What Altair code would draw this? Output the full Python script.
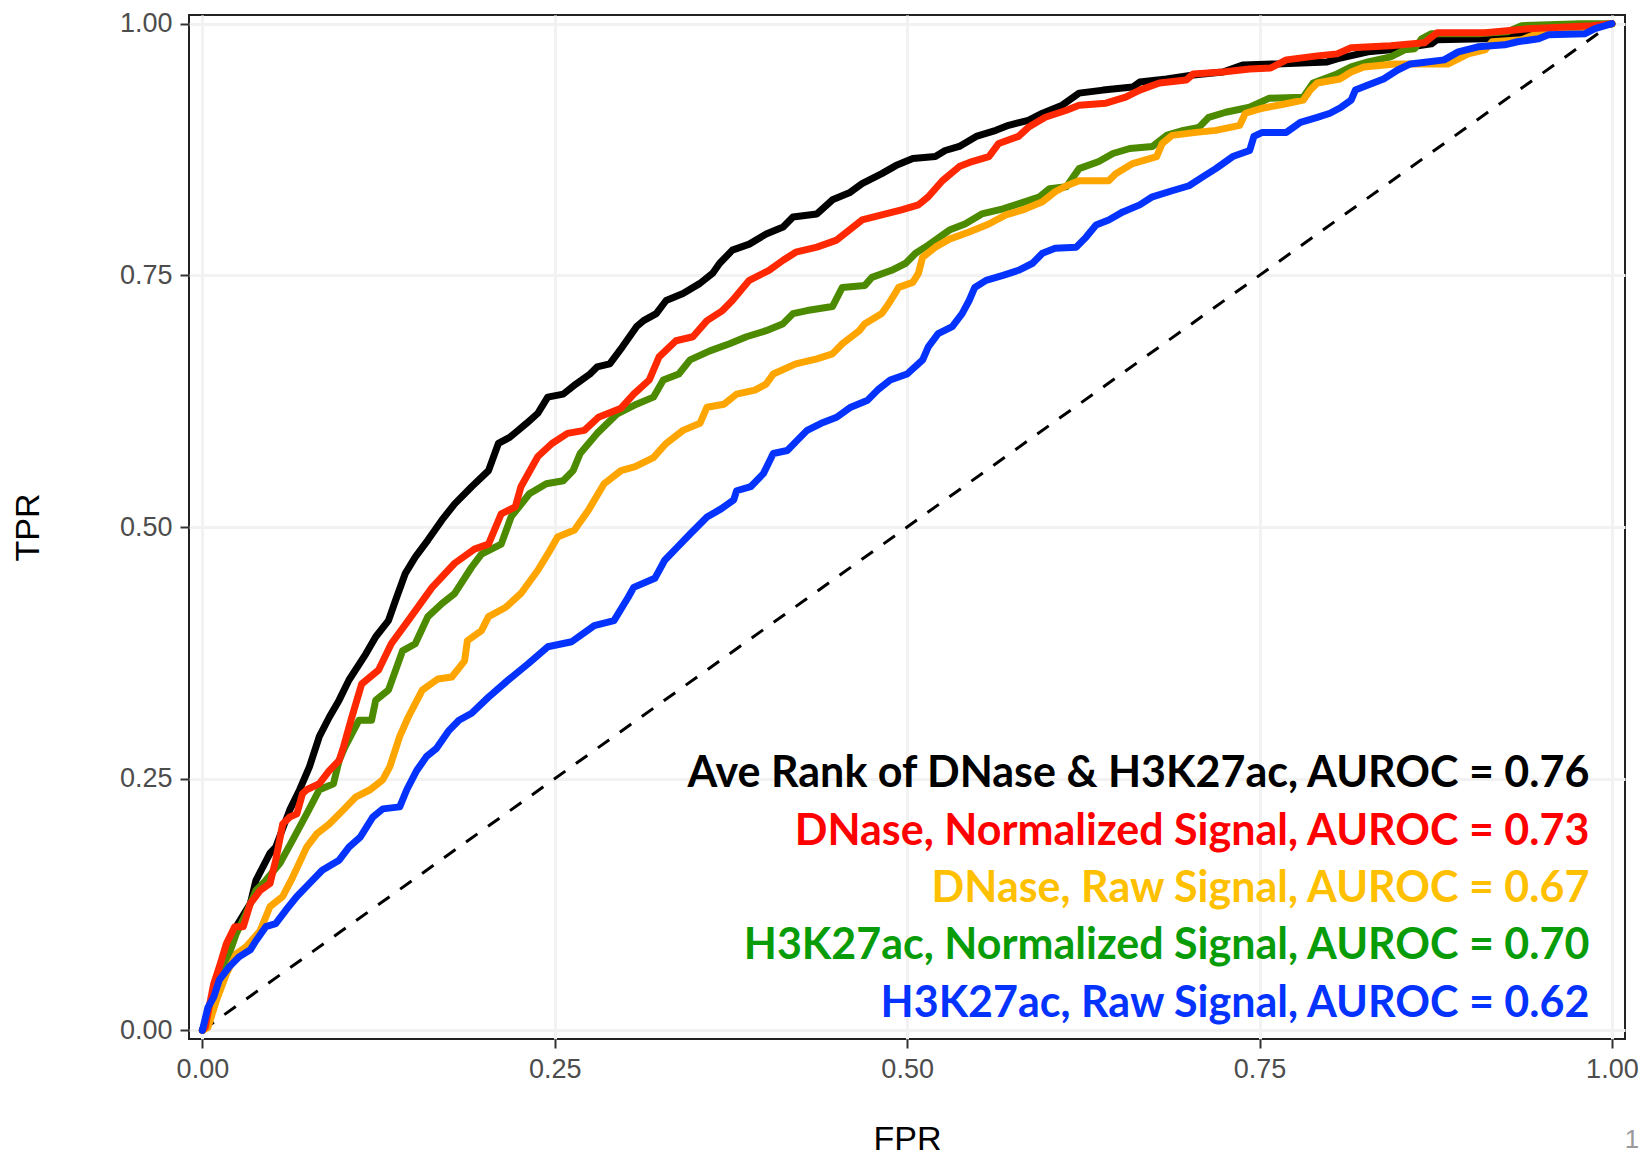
import altair as alt
import pandas as pd

# ---------------- data ----------------
SERIES = [
    "Ave Rank of DNase & H3K27ac",
    "H3K27ac, Normalized Signal",
    "DNase, Raw Signal",
    "DNase, Normalized Signal",
    "H3K27ac, Raw Signal",
]
LINE_COLORS = ["#000000", "#4C8A00", "#FFA500", "#FF2800", "#0433FF"]

BLACK_X = [0, 0.0076, 0.017, 0.024, 0.034, 0.038, 0.048, 0.052, 0.062, 0.069, 0.076, 0.083, 0.090, 0.097,
           0.104, 0.116, 0.123, 0.132, 0.137, 0.144, 0.151, 0.160, 0.170, 0.179, 0.191, 0.203, 0.210, 0.218,
           0.224, 0.230, 0.238, 0.245, 0.256, 0.265, 0.275, 0.280, 0.289, 0.298, 0.308, 0.313, 0.322, 0.329,
           0.341, 0.353, 0.362, 0.367, 0.376, 0.388, 0.400, 0.412, 0.419, 0.436, 0.447, 0.459, 0.468, 0.482,
           0.492, 0.504, 0.520, 0.527, 0.537, 0.549, 0.563, 0.572, 0.586, 0.596, 0.610, 0.622, 0.639, 0.660,
           0.665, 0.684, 0.703, 0.724, 0.738, 0.762, 0.798, 0.805, 0.827, 0.843, 0.872, 0.876, 0.910, 0.933,
           0.945, 0.988, 1.0]
BLACK_Y = [0, 0.030, 0.076, 0.103, 0.126, 0.149, 0.176, 0.182, 0.219, 0.239, 0.262, 0.292, 0.311, 0.328,
           0.348, 0.374, 0.391, 0.407, 0.427, 0.454, 0.470, 0.487, 0.507, 0.523, 0.540, 0.556, 0.583, 0.589,
           0.596, 0.603, 0.613, 0.629, 0.632, 0.642, 0.652, 0.659, 0.662, 0.679, 0.699, 0.705, 0.712, 0.725,
           0.732, 0.742, 0.752, 0.762, 0.775, 0.781, 0.791, 0.798, 0.808, 0.811, 0.825, 0.832, 0.841, 0.851,
           0.859, 0.866, 0.868, 0.874, 0.878, 0.888, 0.894, 0.899, 0.904, 0.911, 0.919, 0.931, 0.934, 0.937,
           0.942, 0.945, 0.949, 0.952, 0.959, 0.960, 0.962, 0.965, 0.972, 0.974, 0.980, 0.984, 0.985, 0.990,
           0.994, 0.998, 1.0]

RED_X = [0, 0.002, 0.008, 0.012, 0.017, 0.023, 0.029, 0.034, 0.041, 0.048, 0.052, 0.057, 0.062, 0.067,
         0.071, 0.074, 0.083, 0.090, 0.097, 0.100, 0.106, 0.113, 0.125, 0.134, 0.146, 0.163, 0.179, 0.193,
         0.203, 0.212, 0.222, 0.226, 0.238, 0.248, 0.259, 0.271, 0.281, 0.297, 0.306, 0.317, 0.324, 0.336,
         0.348, 0.358, 0.369, 0.376, 0.388, 0.402, 0.412, 0.421, 0.436, 0.450, 0.459, 0.468, 0.482, 0.496,
         0.508, 0.515, 0.525, 0.537, 0.546, 0.558, 0.565, 0.579, 0.586, 0.598, 0.613, 0.622, 0.641, 0.655,
         0.665, 0.679, 0.698, 0.703, 0.724, 0.743, 0.758, 0.769, 0.791, 0.805, 0.815, 0.843, 0.867, 0.876,
         0.910, 0.941, 0.986, 1.0]
RED_Y = [0, 0.003, 0.046, 0.063, 0.086, 0.103, 0.103, 0.126, 0.139, 0.146, 0.169, 0.205, 0.212, 0.215,
         0.235, 0.239, 0.245, 0.258, 0.268, 0.281, 0.311, 0.344, 0.358, 0.384, 0.407, 0.440, 0.464, 0.478,
         0.483, 0.513, 0.520, 0.540, 0.570, 0.583, 0.593, 0.596, 0.609, 0.618, 0.632, 0.646, 0.669, 0.685,
         0.689, 0.705, 0.715, 0.725, 0.745, 0.755, 0.765, 0.773, 0.778, 0.785, 0.795, 0.805, 0.810, 0.815,
         0.820, 0.828, 0.844, 0.858, 0.863, 0.868, 0.881, 0.888, 0.897, 0.907, 0.914, 0.919, 0.921, 0.927,
         0.934, 0.941, 0.944, 0.950, 0.952, 0.955, 0.956, 0.964, 0.968, 0.970, 0.976, 0.978, 0.981, 0.991,
         0.991, 0.995, 0.998, 1.0]

GREEN_X = [0, 0.003, 0.012, 0.019, 0.024, 0.031, 0.038, 0.045, 0.055, 0.064, 0.074, 0.083, 0.093, 0.097,
           0.101, 0.111, 0.120, 0.123, 0.132, 0.142, 0.151, 0.160, 0.170, 0.179, 0.191, 0.198, 0.212, 0.219,
           0.232, 0.244, 0.256, 0.263, 0.268, 0.280, 0.294, 0.308, 0.320, 0.327, 0.338, 0.346, 0.360, 0.374,
           0.386, 0.400, 0.412, 0.419, 0.429, 0.447, 0.454, 0.470, 0.475, 0.489, 0.499, 0.506, 0.515, 0.530,
           0.541, 0.553, 0.568, 0.579, 0.594, 0.601, 0.613, 0.622, 0.636, 0.646, 0.658, 0.674, 0.684, 0.696,
           0.707, 0.714, 0.726, 0.743, 0.757, 0.781, 0.788, 0.805, 0.815, 0.827, 0.843, 0.853, 0.860, 0.865,
           0.872, 0.905, 0.926, 0.936, 0.978, 1.0]
GREEN_Y = [0, 0.010, 0.046, 0.076, 0.096, 0.116, 0.139, 0.149, 0.166, 0.189, 0.215, 0.239, 0.245, 0.268,
           0.281, 0.308, 0.308, 0.328, 0.338, 0.377, 0.384, 0.411, 0.424, 0.434, 0.460, 0.473, 0.483, 0.510,
           0.533, 0.543, 0.546, 0.556, 0.573, 0.593, 0.612, 0.622, 0.629, 0.646, 0.652, 0.666, 0.675, 0.682,
           0.689, 0.695, 0.702, 0.712, 0.715, 0.719, 0.738, 0.740, 0.748, 0.755, 0.762, 0.772, 0.780, 0.795,
           0.801, 0.811, 0.816, 0.821, 0.828, 0.836, 0.838, 0.856, 0.863, 0.871, 0.876, 0.878, 0.889, 0.894,
           0.897, 0.907, 0.912, 0.917, 0.926, 0.927, 0.941, 0.950, 0.957, 0.962, 0.967, 0.974, 0.975, 0.985,
           0.990, 0.990, 0.992, 0.998, 1.0, 1.0]

ORANGE_X = [0, 0.004, 0.010, 0.017, 0.024, 0.031, 0.041, 0.048, 0.057, 0.064, 0.074, 0.081, 0.090, 0.100,
            0.109, 0.119, 0.128, 0.133, 0.140, 0.146, 0.156, 0.167, 0.177, 0.186, 0.188, 0.198, 0.203, 0.215,
            0.226, 0.238, 0.245, 0.252, 0.264, 0.274, 0.285, 0.297, 0.307, 0.320, 0.329, 0.341, 0.353, 0.358,
            0.370, 0.379, 0.392, 0.400, 0.405, 0.421, 0.436, 0.447, 0.454, 0.466, 0.470, 0.482, 0.487, 0.494,
            0.504, 0.508, 0.511, 0.520, 0.530, 0.544, 0.558, 0.570, 0.582, 0.596, 0.605, 0.613, 0.622, 0.643,
            0.648, 0.660, 0.677, 0.681, 0.688, 0.705, 0.719, 0.736, 0.740, 0.752, 0.767, 0.781, 0.786, 0.791,
            0.807, 0.815, 0.824, 0.846, 0.884, 0.891, 0.898, 0.910, 0.915, 0.936, 0.945, 0.981, 0.990, 1.0]
ORANGE_Y = [0, 0.003, 0.030, 0.056, 0.076, 0.083, 0.099, 0.123, 0.133, 0.152, 0.182, 0.195, 0.205, 0.219,
            0.232, 0.239, 0.249, 0.262, 0.292, 0.311, 0.338, 0.349, 0.351, 0.367, 0.387, 0.397, 0.411, 0.420,
            0.434, 0.457, 0.473, 0.490, 0.497, 0.517, 0.543, 0.556, 0.560, 0.569, 0.583, 0.596, 0.603, 0.619,
            0.622, 0.632, 0.636, 0.642, 0.652, 0.662, 0.667, 0.672, 0.682, 0.695, 0.702, 0.712, 0.722, 0.738,
            0.743, 0.752, 0.768, 0.778, 0.786, 0.793, 0.801, 0.810, 0.815, 0.823, 0.833, 0.839, 0.844, 0.844,
            0.851, 0.861, 0.868, 0.881, 0.889, 0.892, 0.894, 0.899, 0.911, 0.916, 0.920, 0.924, 0.934, 0.941,
            0.945, 0.952, 0.957, 0.960, 0.960, 0.965, 0.970, 0.974, 0.982, 0.984, 0.989, 0.994, 0.998, 1.0]

BLUE_X = [0, 0.004, 0.008, 0.012, 0.019, 0.026, 0.034, 0.038, 0.045, 0.052, 0.059, 0.067, 0.076, 0.085,
          0.097, 0.104, 0.112, 0.121, 0.128, 0.140, 0.145, 0.152, 0.159, 0.166, 0.175, 0.182, 0.191, 0.203,
          0.217, 0.231, 0.245, 0.262, 0.278, 0.292, 0.302, 0.306, 0.321, 0.328, 0.337, 0.346, 0.358, 0.368,
          0.377, 0.379, 0.389, 0.398, 0.405, 0.415, 0.422, 0.429, 0.439, 0.450, 0.460, 0.472, 0.479, 0.488,
          0.500, 0.511, 0.515, 0.522, 0.532, 0.539, 0.544, 0.548, 0.556, 0.568, 0.579, 0.589, 0.596, 0.605,
          0.620, 0.627, 0.634, 0.643, 0.653, 0.665, 0.674, 0.688, 0.700, 0.710, 0.719, 0.731, 0.743, 0.746,
          0.752, 0.769, 0.779, 0.791, 0.800, 0.808, 0.815, 0.818, 0.827, 0.838, 0.848, 0.857, 0.869, 0.881,
          0.891, 0.905, 0.924, 0.933, 0.948, 0.955, 0.981, 0.988, 1.0]
BLUE_Y = [0, 0.023, 0.033, 0.050, 0.063, 0.073, 0.080, 0.089, 0.103, 0.106, 0.119, 0.133, 0.146, 0.159,
          0.169, 0.182, 0.192, 0.212, 0.220, 0.222, 0.239, 0.258, 0.272, 0.280, 0.298, 0.308, 0.315, 0.331,
          0.348, 0.364, 0.381, 0.386, 0.402, 0.407, 0.430, 0.440, 0.449, 0.467, 0.480, 0.493, 0.510, 0.518,
          0.527, 0.536, 0.540, 0.553, 0.573, 0.576, 0.586, 0.596, 0.603, 0.609, 0.619, 0.626, 0.636, 0.646,
          0.652, 0.666, 0.679, 0.692, 0.699, 0.712, 0.725, 0.738, 0.745, 0.750, 0.755, 0.762, 0.772, 0.777,
          0.778, 0.788, 0.800, 0.805, 0.813, 0.820, 0.828, 0.834, 0.839, 0.848, 0.856, 0.868, 0.874, 0.888,
          0.892, 0.892, 0.902, 0.907, 0.911, 0.917, 0.924, 0.934, 0.939, 0.945, 0.954, 0.960, 0.962, 0.964,
          0.972, 0.977, 0.979, 0.982, 0.985, 0.989, 0.990, 0.995, 1.0]

SERIES_X = [BLACK_X, GREEN_X, ORANGE_X, RED_X, BLUE_X]
SERIES_Y = [BLACK_Y, GREEN_Y, ORANGE_Y, RED_Y, BLUE_Y]

DIAG_X = [0.0, 1.0]
DIAG_Y = [0.0, 1.0]

LABELS = [
    "Ave Rank of DNase & H3K27ac, AUROC = 0.76",
    "DNase, Normalized Signal, AUROC = 0.73",
    "DNase, Raw Signal, AUROC = 0.67",
    "H3K27ac, Normalized Signal, AUROC = 0.70",
    "H3K27ac, Raw Signal, AUROC = 0.62",
]
LABEL_COLORS = ["#000000", "#FF0000", "#FFC000", "#089C08", "#0433FF"]

TICKS = [0.0, 0.25, 0.5, 0.75, 1.0]
PAGE_NUMBER = "1"

# ---------------- build ----------------
rows = []
for name, xs, ys in zip(SERIES, SERIES_X, SERIES_Y):
    for i, (a, b) in enumerate(zip(xs, ys)):
        rows.append({"series": name, "fpr": a, "tpr": b, "idx": i})
df = pd.DataFrame(rows)

x_enc = alt.X("fpr:Q", scale=alt.Scale(domain=[-0.0095, 1.0093], nice=False, zero=False),
              axis=alt.Axis(values=TICKS, format=".2f", title="FPR", grid=True,
                            titleX=718, titleY=100, titleBaseline="middle", titleAlign="center"))
y_enc = alt.Y("tpr:Q", scale=alt.Scale(domain=[-0.0086, 1.0086], nice=False, zero=False),
              axis=alt.Axis(values=TICKS, format=".2f", title="TPR", grid=True,
                            titleX=-161, titleY=512, titleBaseline="middle", titleAlign="center",
                            titleAngle=270))

diag = alt.Chart(pd.DataFrame({"fpr": DIAG_X, "tpr": DIAG_Y})).mark_line(
    color="black", strokeWidth=3, strokeDash=[14, 13]).encode(x=x_enc, y=y_enc)

layers = [diag]
for name, col in zip(SERIES, LINE_COLORS):
    layers.append(
        alt.Chart(df).transform_filter(alt.datum.series == name).mark_line(
            color=col, strokeWidth=7, strokeJoin="round", strokeCap="round"
        ).encode(x=x_enc, y=y_enc, order="idx:Q")
    )

lab_df = pd.DataFrame({
    "label": LABELS,
    "color": LABEL_COLORS,
    "fpr": [0.984] * len(LABELS),
    "tpr": [0.2417 - i * 0.0571 for i in range(len(LABELS))],
})
text = alt.Chart(lab_df).mark_text(
    align="right", baseline="alphabetic", font="Lato",
    fontWeight="bold", fontSize=43
).encode(x=x_enc, y=y_enc, text="label:N",
         color=alt.Color("color:N", scale=None, legend=None))
layers.append(text)

page = alt.Chart(pd.DataFrame({"t": [PAGE_NUMBER]})).mark_text(
    fontSize=26, color="#9a9a9a", font="Liberation Sans", align="center", baseline="middle"
).encode(text="t:N", x=alt.value(1443), y=alt.value(1125))
layers.append(page)

chart = alt.layer(*layers).properties(
    width=1436, height=1024,
    autosize=alt.AutoSizeParams(type="none"),
    padding={"left": 189, "top": 15, "right": 16, "bottom": 118},
    background="white",
).configure_view(
    stroke="#222222", strokeWidth=2
).configure_axis(
    labelFont="Liberation Sans", labelFontSize=27, labelColor="#4D4D4D",
    labelFlush=False, labelOverlap=False, labelPadding=8,
    tickColor="#333333", tickWidth=2, tickSize=9,
    domain=False,
    gridColor="#F2F2F2", gridWidth=3,
    titleFont="Liberation Sans", titleFontSize=34, titleFontWeight="normal", titleColor="#000000",
)

chart.save("out.html", embed_options={"renderer": "svg", "actions": False})
